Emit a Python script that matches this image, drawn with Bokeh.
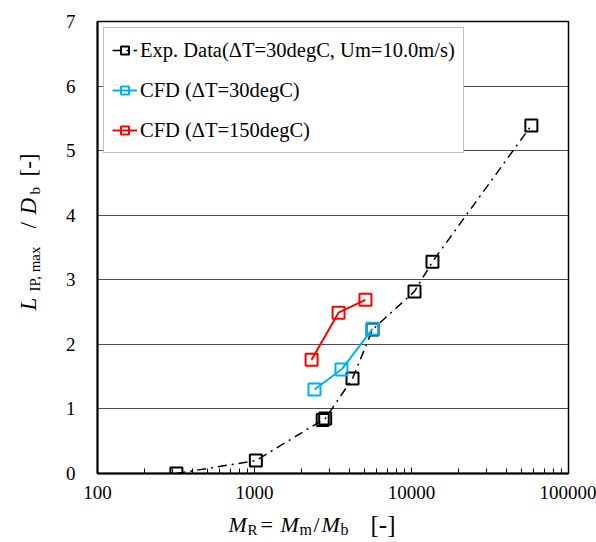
import math
from bokeh.plotting import figure
from bokeh.layouts import row, column
from bokeh.models import FixedTicker, Label, Legend, LegendItem, Range1d
from bokeh.embed import file_html
from bokeh.resources import INLINE

# ---- data ----
exp_x = [318, 1020, 2720, 2820, 4210, 5650, 10450, 13600, 58000]
exp_y = [0.0, 0.20, 0.83, 0.85, 1.47, 2.23, 2.82, 3.28, 5.39]
cfd30_x = [2410, 3580, 5650]
cfd30_y = [1.30, 1.61, 2.24]
cfd150_x = [2310, 3430, 5090]
cfd150_y = [1.76, 2.49, 2.69]

x_ticks = [100, 1000, 10000, 100000]
y_ticks = [0, 1, 2, 3, 4, 5, 6, 7]
labels = ["Exp. Data(\u0394T=30degC, Um=10.0m/s)", "CFD (\u0394T=30degC)", "CFD (\u0394T=150degC)"]

FONT = "Liberation Serif"
W, H = 596, 542
LW = 50            # width of the strip holding the y title
PH = 510           # height of the main figure
FL, FR, FT, FB = 97, 568, 21, 473  # frame edges in full-canvas px

p = figure(width=W - LW, height=PH, x_axis_type="log", x_range=(100, 100000), y_range=(0, 7),
           output_backend="svg", toolbar_location=None,
           min_border_left=FL - LW, min_border_right=W - FR, min_border_top=FT, min_border_bottom=PH - FB)
p.background_fill_color = "white"
p.border_fill_color = "white"
p.outline_line_color = "black"
p.outline_line_width = 1.5

minor = [m * 10 ** k for k in range(2, 5) for m in range(2, 10)]
p.xaxis.ticker = FixedTicker(ticks=x_ticks, minor_ticks=minor)
p.xaxis.major_label_overrides = {t: str(t) for t in x_ticks}
p.yaxis.ticker = FixedTicker(ticks=y_ticks)
p.yaxis.major_label_overrides = {t: str(t) for t in y_ticks}

for ax in (p.xaxis, p.yaxis):
    ax.axis_line_color = "black"
    ax.axis_line_width = 2
    ax.major_label_text_font = FONT
    ax.major_label_text_font_size = "19px"
    ax.major_label_text_color = "black"
p.xaxis.major_tick_in = 6
p.xaxis.major_tick_out = 0
p.xaxis.minor_tick_in = 5
p.xaxis.minor_tick_out = 0
p.xaxis.major_tick_line_color = "black"
p.xaxis.minor_tick_line_color = "black"
p.xaxis.major_label_standoff = 12
p.yaxis.major_tick_in = 0
p.yaxis.major_tick_out = 0
p.yaxis.minor_tick_line_color = None
p.yaxis.major_label_standoff = 22

p.xgrid.grid_line_color = None
p.ygrid.grid_line_color = "#4d4d4d"
p.ygrid.grid_line_width = 1

# ---- glyphs ----
l1 = p.line(exp_x, exp_y, line_color="black", line_width=1.5, line_dash="9 5 2 5")
m1 = p.scatter(exp_x, exp_y, marker="square", size=12, line_color="black", line_width=2, fill_alpha=0)
l2 = p.line(cfd30_x, cfd30_y, line_color="#00B0F0", line_width=2)
m2 = p.scatter(cfd30_x, cfd30_y, marker="square", size=12, line_color="#00B0F0", line_width=2, fill_alpha=0)
l3 = p.line(cfd150_x, cfd150_y, line_color="#FF0000", line_width=2)
m3 = p.scatter(cfd150_x, cfd150_y, marker="square", size=12, line_color="#FF0000", line_width=2, fill_alpha=0)

legend = Legend(items=[LegendItem(label=labels[0], renderers=[l1, m1]),
                       LegendItem(label=labels[1], renderers=[l2, m2]),
                       LegendItem(label=labels[2], renderers=[l3, m3])],
                location="top_left", margin=6, padding=8, spacing=12,
                label_height=28, glyph_height=20, glyph_width=25, label_standoff=3,
                label_text_font=FONT, label_text_font_size="20.5px", label_text_color="black",
                border_line_color="#808080", border_line_width=1.5,
                background_fill_color="white", background_fill_alpha=1)
p.add_layout(legend)


def strip(w, h, xr, yr):
    f = figure(width=w, height=h, x_range=xr, y_range=yr,
               output_backend="svg", toolbar_location=None,
               x_axis_location=None, y_axis_location=None, min_border=0)
    f.outline_line_color = None
    f.xgrid.visible = False
    f.ygrid.visible = False
    f.background_fill_color = "white"
    f.border_fill_color = "white"
    return f


# y title strip (left, full height); data units = canvas px (y measured upward)
yfig = strip(LW, H, Range1d(0, LW), Range1d(0, H))
# x title strip below main figure; its frame is aligned with the main frame (FL..FR)
xfig = strip(W - LW, H - PH, Range1d(FL, FR), Range1d(0, H - PH))


def piece(f, text, px, py, size, style="normal", angle=0.0, ytop=H):
    f.add_layout(Label(x=px, y=ytop - py, text=text, text_font=FONT,
                       text_font_size=f"{size}px", text_font_style=style, text_color="black",
                       text_align="left", text_baseline="alphabetic", angle=angle))


# x title: M_R = M_m/M_b [-]
BX, BS = 524, 529
for t, x, y, s, st in [("M", 228, BX, 22, "italic"), ("R", 247, BS, 15, "normal"),
                       ("=", 260, BX, 22, "normal"), ("M", 280, BX, 22, "italic"),
                       ("m", 299, BS, 16, "normal"), ("/", 313, BX, 22, "normal"),
                       ("M", 321, BX, 22, "italic"), ("b", 340, BS, 16, "normal"),
                       ("[-]", 370, BX, 25, "normal")]:
    piece(xfig, t, x, y, s, st, 0.0, H)

# y title: L_IP,max / D_b [-]
A = math.pi / 2
BY, BSY = 28, 34
for t, x, y, s, st in [("L", BY, 310, 23, "italic"), ("IP, max", BSY, 291, 15, "normal"),
                       ("/", BY, 228, 23, "normal"), ("D", BY, 214, 23, "italic"),
                       ("b", BSY, 194, 15, "normal"), ("[-]", BY, 176, 23, "normal")]:
    piece(yfig, t, x, y, s, st, A, H)

layout = row(yfig, column(p, xfig, spacing=0), spacing=0)
open("out.html", "w").write(file_html(layout, INLINE))
